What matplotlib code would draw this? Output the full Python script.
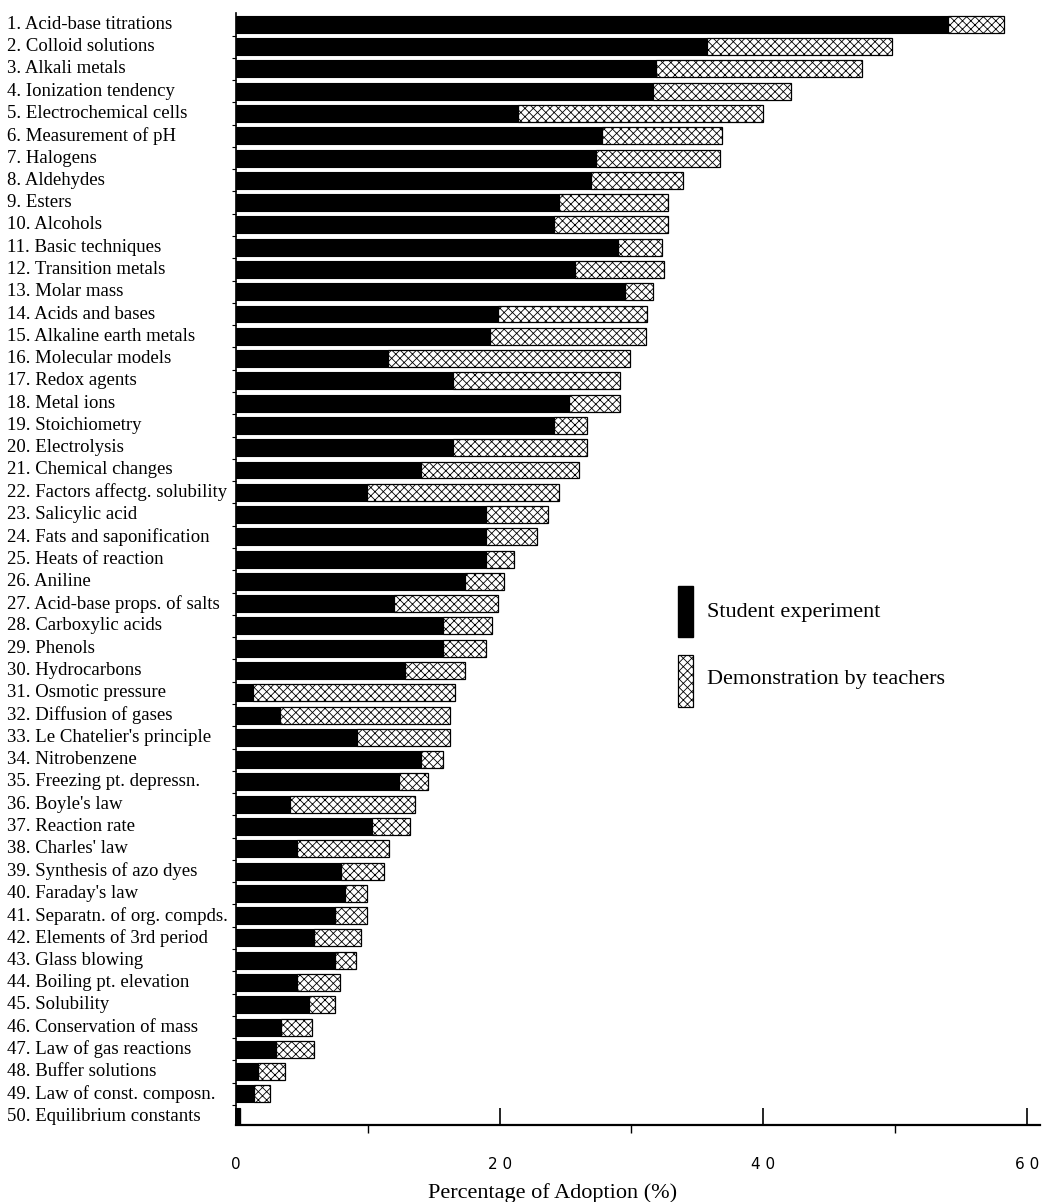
import matplotlib.pyplot as plt
import matplotlib.transforms as mtransforms
from matplotlib.patches import Rectangle

plt.rcParams['hatch.linewidth'] = 0.6
plt.rcParams['hatch.color'] = '#777777'

topics = [
    "1. Acid-base titrations", "2. Colloid solutions", "3. Alkali metals",
    "4. Ionization tendency", "5. Electrochemical cells", "6. Measurement of pH",
    "7. Halogens", "8. Aldehydes", "9. Esters", "10. Alcohols",
    "11. Basic techniques", "12. Transition metals", "13. Molar mass",
    "14. Acids and bases", "15. Alkaline earth metals", "16. Molecular models",
    "17. Redox agents", "18. Metal ions", "19. Stoichiometry", "20. Electrolysis",
    "21. Chemical changes", "22. Factors affectg. solubility", "23. Salicylic acid",
    "24. Fats and saponification", "25. Heats of reaction", "26. Aniline",
    "27. Acid-base props. of salts", "28. Carboxylic acids", "29. Phenols",
    "30. Hydrocarbons", "31. Osmotic pressure", "32. Diffusion of gases",
    "33. Le Chatelier's principle", "34. Nitrobenzene", "35. Freezing pt. depressn.",
    "36. Boyle's law", "37. Reaction rate", "38. Charles' law",
    "39. Synthesis of azo dyes", "40. Faraday's law", "41. Separatn. of org. compds.",
    "42. Elements of 3rd period", "43. Glass blowing", "44. Boiling pt. elevation",
    "45. Solubility", "46. Conservation of mass", "47. Law of gas reactions",
    "48. Buffer solutions", "49. Law of const. composn.", "50. Equilibrium constants",
]

# student experiment share (%)
student = [54.0, 35.7, 31.9, 31.6, 21.4, 27.8, 27.3, 26.9, 24.5, 24.1,
           29.0, 25.7, 29.5, 19.9, 19.3, 11.5, 16.5, 25.3, 24.1, 16.5,
           14.0, 9.9, 19.0, 19.0, 19.0, 17.4, 12.0, 15.7, 15.7, 12.8,
           1.3, 3.3, 9.2, 14.0, 12.4, 4.1, 10.3, 4.6, 8.0, 8.3,
           7.5, 5.9, 7.5, 4.6, 5.5, 3.4, 3.0, 1.7, 1.4, 0.3]
# total adoption (student + teacher demonstration) (%)
total = [58.3, 49.8, 47.5, 42.1, 40.0, 36.9, 36.7, 33.9, 32.8, 32.8,
         32.3, 32.5, 31.6, 31.2, 31.1, 29.9, 29.1, 29.1, 26.6, 26.6,
         26.0, 24.5, 23.7, 22.8, 21.1, 20.3, 19.9, 19.4, 19.0, 17.4,
         16.6, 16.2, 16.2, 15.7, 14.6, 13.6, 13.2, 11.6, 11.2, 9.9,
         9.9, 9.5, 9.1, 7.9, 7.5, 5.8, 5.9, 3.7, 2.6, 0.3]
demo = [t - s for s, t in zip(student, total)]

fig = plt.figure(figsize=(10.43, 12.02), dpi=100)
ax = fig.add_axes([0.2263, 0.064, 0.7708, 0.925])

pos = list(range(1, len(topics) + 1))
ax.barh(pos, student, height=0.76, color='black', edgecolor='black', linewidth=0.8)
ax.barh(pos, demo, left=student, height=0.76, color='white', edgecolor='black',
        linewidth=0.9, hatch='xxxx')

ax.set_xlim(0, 61)
ax.set_ylim(50.4, 0.5)

# labels on the far left, left aligned
trans = mtransforms.blended_transform_factory(fig.transFigure, ax.transData)
for p, name in zip(pos, topics):
    ax.text(7 / 1043, p, name, transform=trans, ha='left', va='center',
            fontsize=13.5, family='Liberation Serif')

ax.set_yticks([p + 0.5 for p in pos[:-1]])
ax.set_yticklabels([])
ax.tick_params(axis='y', direction='out', length=3, width=0.8)

ax.set_xticks([0, 20, 40, 60])
ax.set_xticklabels(['0', '2 0', '4 0', '6 0'], family='DejaVu Sans', fontsize=11)
ax.set_xticks([10, 30, 50], minor=True)
ax.tick_params(axis='x', which='major', direction='in', length=12, width=1.2, pad=23)
ax.tick_params(axis='x', which='minor', direction='out', length=6, width=1)

for s in ['top', 'right']:
    ax.spines[s].set_visible(False)
ax.spines['bottom'].set_linewidth(1.6)
ax.spines['left'].set_linewidth(1.2)

ax.set_xlabel('Percentage of Adoption (%)', family='Liberation Serif', fontsize=16)
ax.xaxis.set_label_coords(0.394, -0.052)

# legend drawn by hand
ax.add_patch(Rectangle((33.5, 26.2), 1.2, 2.3, facecolor='black', edgecolor='black',
                       clip_on=False))
ax.add_patch(Rectangle((33.5, 29.3), 1.2, 2.35, facecolor='white', edgecolor='black',
                       hatch='xxxx', linewidth=0.9, clip_on=False))
ax.text(35.7, 27.4, 'Student experiment', va='center', ha='left',
        family='Liberation Serif', fontsize=16)
ax.text(35.7, 30.4, 'Demonstration by teachers', va='center', ha='left',
        family='Liberation Serif', fontsize=16)

fig.savefig('out.png', dpi=100)
